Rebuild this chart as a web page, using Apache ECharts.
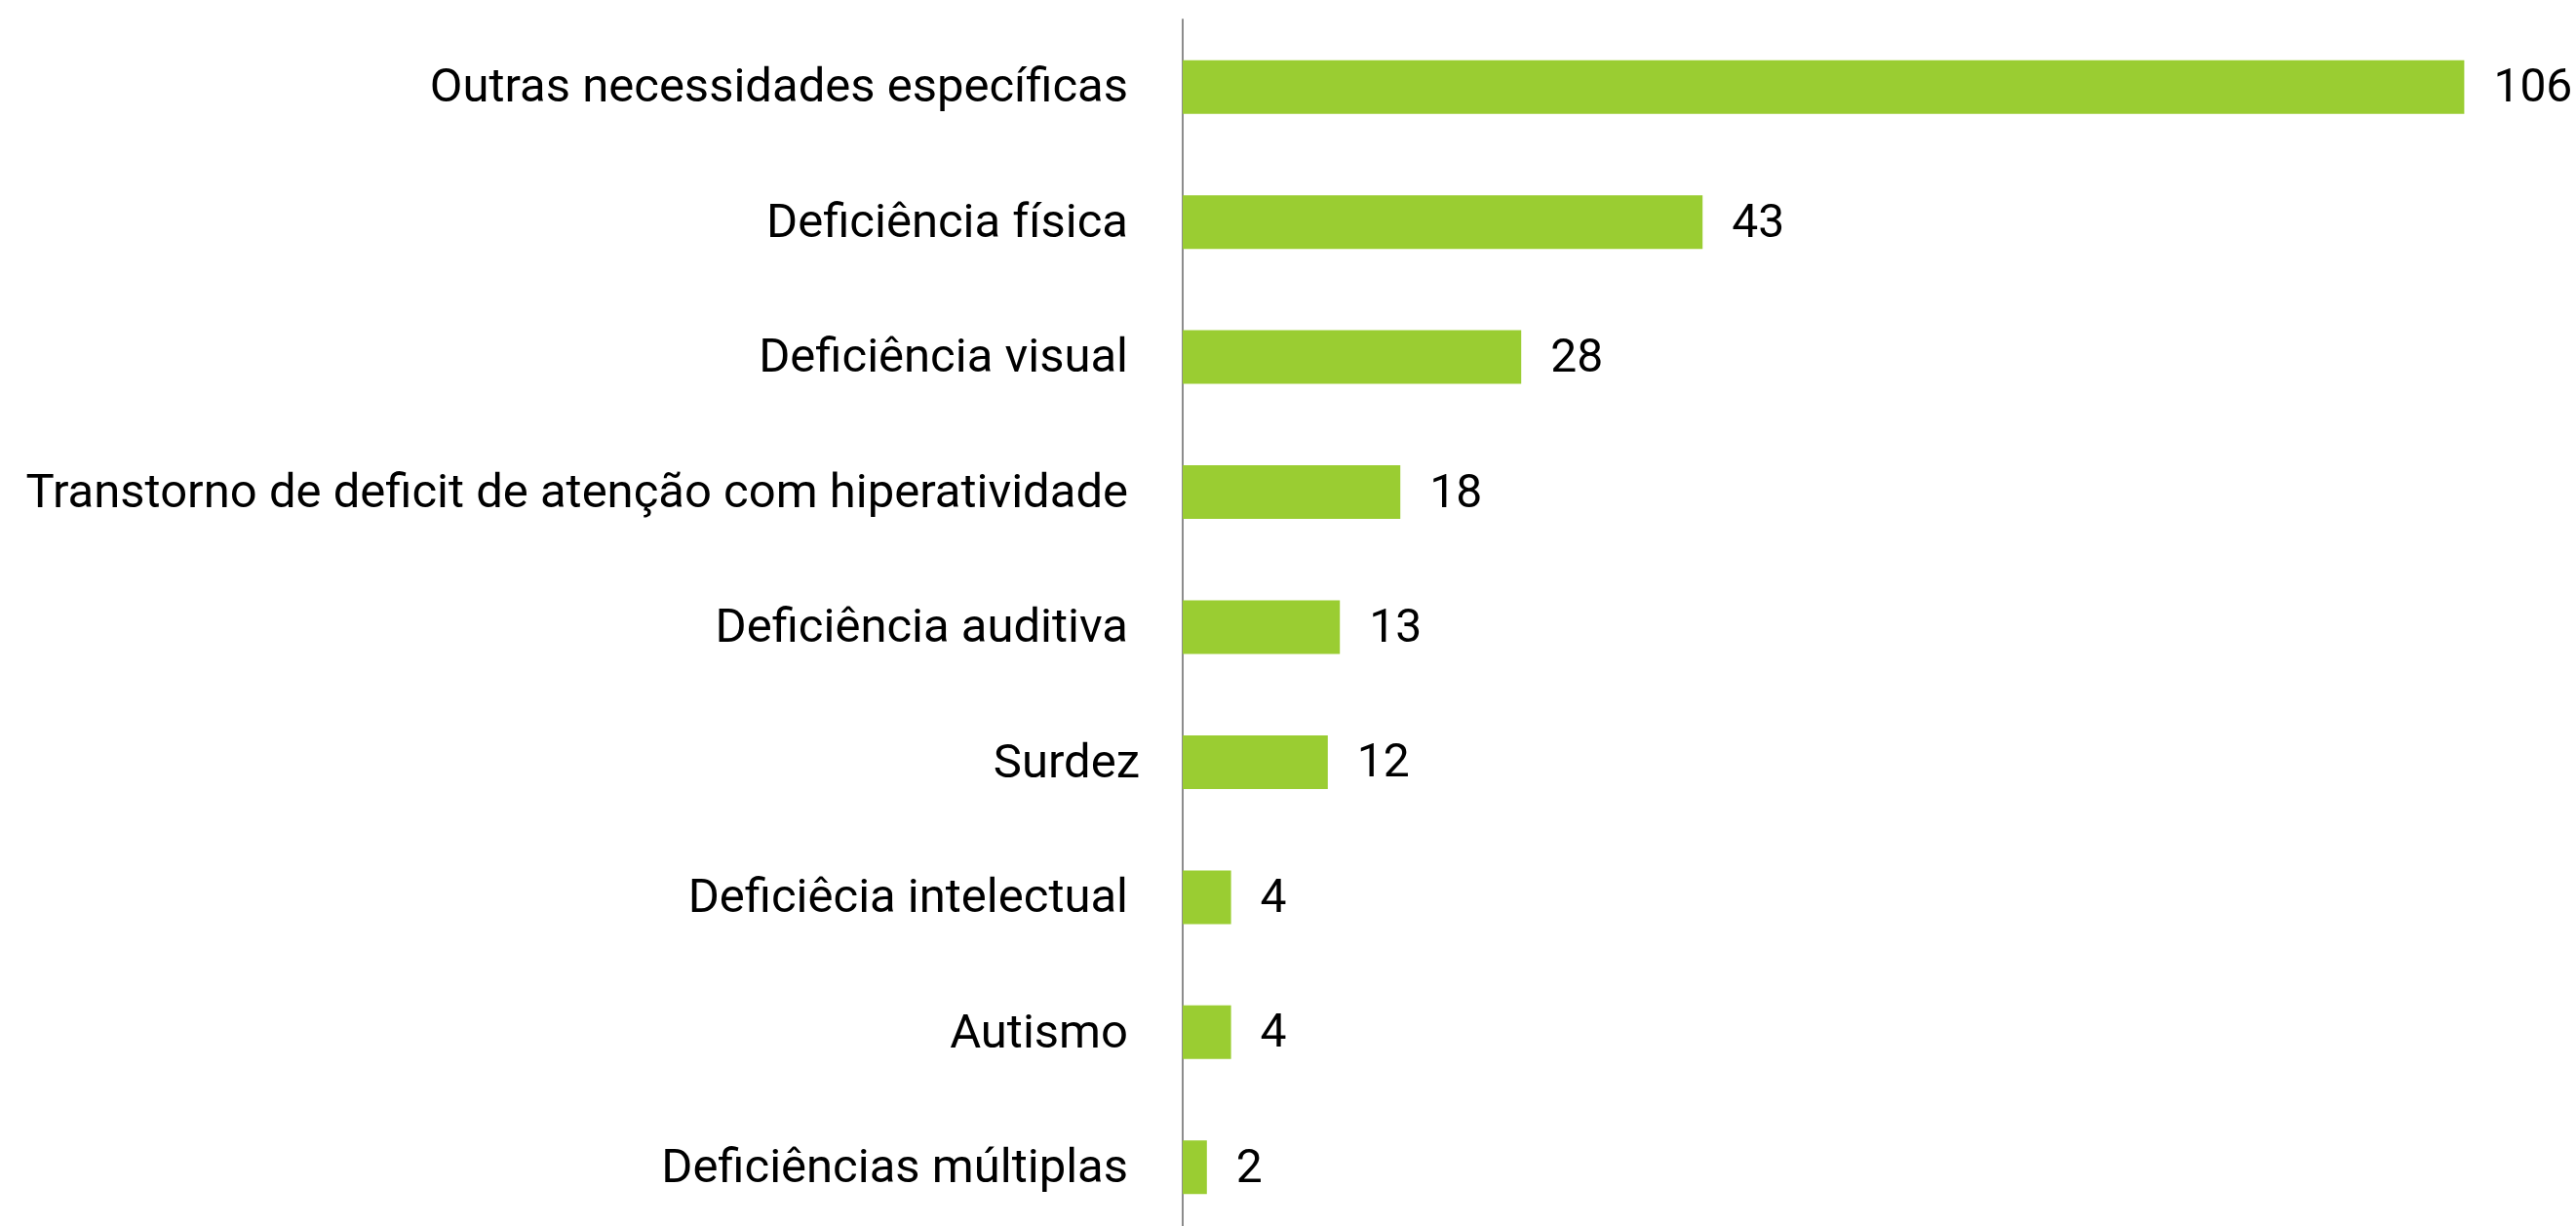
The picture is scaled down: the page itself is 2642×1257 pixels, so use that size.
<!DOCTYPE html>
<html>
<head>
<meta charset="utf-8">
<style>
  html, body { margin: 0; padding: 0; background: #ffffff; overflow: hidden; }
  /* the plot runs slightly past the bottom edge of the window */
  #chart { width: 2642px; height: 1267px; }
</style>
<script src="https://cdn.jsdelivr.net/npm/echarts@6/dist/echarts.min.js"></script>
</head>
<body>
<div id="chart"></div>
<script>
// Categories listed top to bottom
const categories = [
  'Outras necessidades específicas',
  'Deficiência física',
  'Deficiência visual',
  'Transtorno de deficit de atenção com hiperatividade',
  'Deficiência auditiva',
  'Surdez',
  'Deficiêcia intelectual',
  'Autismo',
  'Deficiências múltiplas'
];
const counts = [106, 43, 28, 18, 13, 12, 4, 4, 2];

const chart = echarts.init(document.getElementById('chart'), null, { renderer: 'canvas' });

const labelFont = { color: '#000000', fontFamily: 'Roboto', fontSize: 49 };

chart.setOption({
  backgroundColor: '#ffffff',
  animation: false,
  grid: { left: 1213, top: 20, width: 1364, height: 1246 },
  xAxis: {
    type: 'value',
    min: 0,
    max: 110,
    show: false
  },
  yAxis: {
    type: 'category',
    data: categories,
    inverse: true,
    axisLine: { show: true, lineStyle: { color: '#8c8c8c', width: 2 } },
    axisTick: { show: false },
    splitLine: { show: false },
    axisLabel: Object.assign({
      margin: 44,
      formatter: v => (v === 'Surdez' ? '{n|' + v + '}' : '{p|' + v + '}'),
      rich: {
        p: Object.assign({ padding: [6, 12, 0, 0] }, labelFont),
        n: Object.assign({ padding: [6, 0, 0, 0] }, labelFont)
      }
    }, labelFont)
  },
  series: [{
    type: 'bar',
    data: counts,
    barWidth: 55,
    itemStyle: { color: '#9ACD32' },
    label: {
      show: true,
      position: 'right',
      distance: 30,
      offset: [0, 3],
      color: '#000000',
      fontFamily: 'Roboto',
      fontSize: 48
    }
  }]
});
</script>
</body>
</html>
